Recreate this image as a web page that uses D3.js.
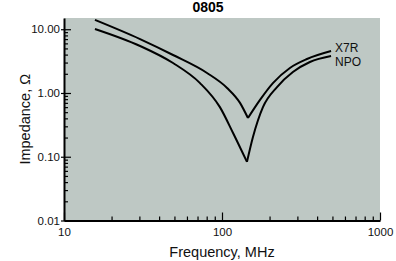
<!DOCTYPE html>
<html>
<head>
<meta charset="utf-8">
<script src="https://cdn.jsdelivr.net/npm/d3@7"></script>
<style>
  body { margin: 0; background: #fff; }
  svg { display: block; font-family: "Liberation Sans", Arial, Helvetica, sans-serif; }
</style>
</head>
<body>
<div id="chart"></div>
<script>
// values (MHz, ohms)
const x7rFreq = [15.7, 30.3, 49.0, 80.4, 107.7, 130, 146, 174, 210, 269, 345, 490];
const x7rImp  = [14.0, 7.0, 3.94, 2.06, 1.20, 0.70, 0.405, 0.78, 1.43, 2.47, 3.41, 4.55];

const npoFreq = [15.7, 30.3, 49.0, 72.6, 97.0, 117.5, 143.9, 157, 181.6, 223, 281, 360, 490];
const npoImp  = [10.1, 5.46, 2.95, 1.43, 0.60, 0.236, 0.083, 0.204, 0.60, 1.24, 2.13, 3.06, 3.80];

const seriesNames = ["X7R", "NPO"];

const yMajor = [0.01, 0.1, 1, 10];
const yLabels = ["0.01", "0.10", "1.00", "10.00"];
const xMajor = [10, 100, 1000];
const xLabels = ["10", "100", "1000"];

const width = 396;
const height = 261;
const margin = { top: 18, right: 16, bottom: 40.5, left: 64 };

const svg = d3.select("#chart").append("svg")
  .attr("width", width)
  .attr("height", height);

const x = d3.scaleLog()
  .domain([10, 1000])
  .range([margin.left, width - margin.right]);

const y = d3.scaleLog()
  .domain([0.01, 15])
  .range([height - margin.bottom, margin.top]);

// plot background
svg.append("rect")
  .attr("x", x(10))
  .attr("y", y(15))
  .attr("width", x(1000) - x(10))
  .attr("height", y(0.01) - y(15))
  .attr("fill", "#bec8c4");

// minor ticks
const minorOf = (lo, hi) => d3.range(Math.log10(lo), Math.log10(hi))
  .flatMap(e => d3.range(2, 10).map(k => k * Math.pow(10, e)));

svg.append("g")
  .attr("transform", `translate(${x(10)},0)`)
  .call(d3.axisLeft(y).tickValues(minorOf(0.01, 10)).tickFormat("").tickSizeInner(-4).tickSizeOuter(0))
  .call(g => g.select(".domain").remove())
  .call(g => g.selectAll("line").attr("stroke-width", 1.2));

svg.append("g")
  .attr("transform", `translate(0,${y(0.01)})`)
  .call(d3.axisBottom(x).tickValues(minorOf(10, 1000)).tickFormat("").tickSizeInner(-4).tickSizeOuter(0))
  .call(g => g.select(".domain").remove())
  .call(g => g.selectAll("line").attr("stroke-width", 1.2));

// major ticks + labels
svg.append("g")
  .attr("transform", `translate(${x(10)},0)`)
  .call(d3.axisLeft(y).tickValues(yMajor).tickFormat((d, i) => yLabels[i])
    .tickSizeInner(-7).tickSizeOuter(0).tickPadding(4))
  .call(g => g.select(".domain").attr("stroke-width", 2))
  .call(g => g.selectAll("line").attr("x1", -3).attr("stroke-width", 1.2))
  .call(g => g.selectAll("text").attr("font-size", 11.5).attr("fill", "#111"));

svg.append("g")
  .attr("transform", `translate(0,${y(0.01)})`)
  .call(d3.axisBottom(x).tickValues(xMajor).tickFormat((d, i) => xLabels[i])
    .tickSizeInner(-8).tickSizeOuter(0).tickPadding(7))
  .call(g => g.select(".domain").attr("stroke-width", 2))
  .call(g => g.selectAll("line").attr("stroke-width", 1.2))
  .call(g => g.selectAll("text").attr("font-size", 11.5).attr("fill", "#111"));

// curves: each one split at its resonance so the dip stays sharp
const line = d3.line()
  .x(d => x(d.f))
  .y(d => y(d.z))
  .curve(d3.curveMonotoneX);

function branches(freq, imp) {
  const pts = freq.map((f, i) => ({ f, z: imp[i] }));
  const m = d3.minIndex(pts, d => d.z);
  return [pts.slice(0, m + 1), pts.slice(m)];
}

const series = [
  { name: seriesNames[0], freq: x7rFreq, imp: x7rImp },
  { name: seriesNames[1], freq: npoFreq, imp: npoImp }
];

series.forEach(s => {
  branches(s.freq, s.imp).forEach(b => {
    svg.append("path")
      .attr("d", line(b))
      .attr("fill", "none")
      .attr("stroke", "#000")
      .attr("stroke-width", 2)
      .attr("stroke-linejoin", "round");
  });

  const last = s.freq.length - 1;
  svg.append("text")
    .attr("x", x(s.freq[last]) + 4)
    .attr("y", y(s.imp[last]))
    .attr("dy", s.name === "X7R" ? "0.1em" : "0.85em")
    .attr("font-size", 12)
    .attr("fill", "#111")
    .text(s.name);
});

// titles
svg.append("text")
  .attr("x", 208)
  .attr("y", 12)
  .attr("text-anchor", "middle")
  .attr("font-size", 14)
  .attr("font-weight", "bold")
  .text("0805");

svg.append("text")
  .attr("x", (x(10) + x(1000)) / 2)
  .attr("y", 257)
  .attr("text-anchor", "middle")
  .attr("font-size", 14.5)
  .attr("fill", "#111")
  .text("Frequency, MHz");

svg.append("text")
  .attr("transform", `translate(30,${(y(0.01) + y(15)) / 2}) rotate(-90)`)
  .attr("text-anchor", "middle")
  .attr("font-size", 14.5)
  .attr("fill", "#111")
  .text("Impedance, \u03A9");
</script>
</body>
</html>
